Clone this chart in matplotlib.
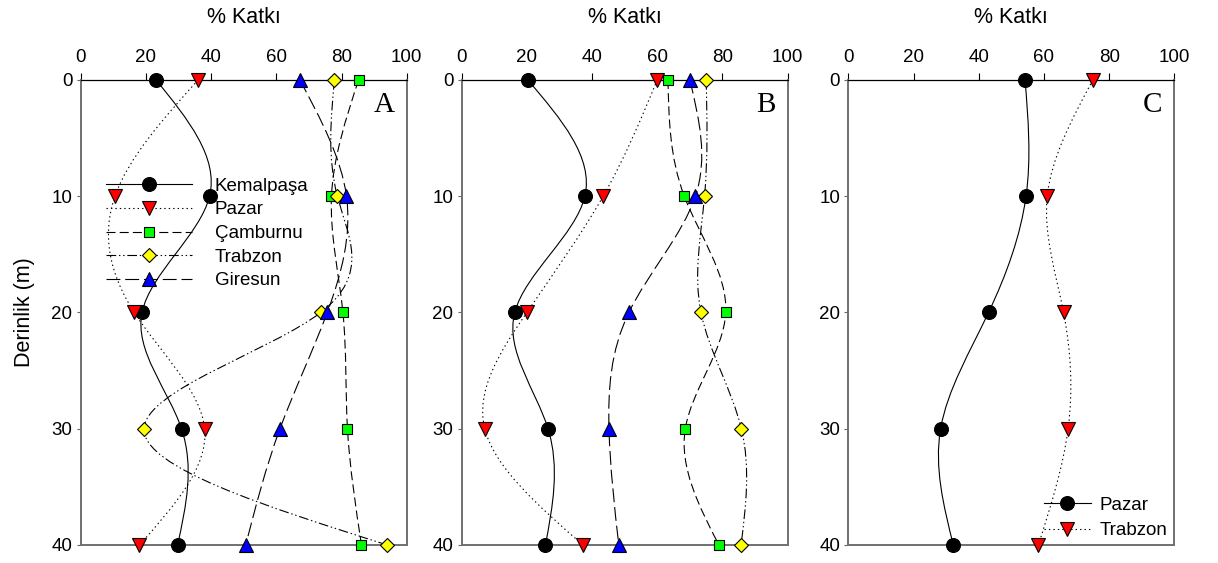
import numpy as np
import matplotlib
matplotlib.use("Agg")
import matplotlib.pyplot as plt
from matplotlib.path import Path
from matplotlib.patches import PathPatch
from matplotlib.lines import Line2D

plt.rcParams['font.family'] = ['Liberation Sans', 'DejaVu Sans']
plt.rcParams['lines.scale_dashes'] = False

depth = [0, 10, 20, 30, 40]

# panel A
a_kemalpasa = [23.1, 39.5, 18.8, 30.9, 29.7]
a_pazar = [36.0, 10.5, 16.4, 38.0, 18.0]
a_camburnu = [85.2, 76.9, 80.4, 81.8, 86.1]
a_trabzon = [77.8, 78.7, 73.6, 19.4, 94.0]
a_giresun = [67.2, 81.5, 75.6, 61.1, 50.6]

# panel B
b_kemalpasa = [20.3, 37.8, 16.3, 26.5, 25.7]
b_pazar = [60.0, 43.4, 20.0, 7.1, 37.2]
b_camburnu = [63.3, 68.3, 81.0, 68.6, 78.9]
b_trabzon = [75.0, 74.5, 73.4, 85.8, 85.7]
b_giresun = [70.0, 71.7, 51.3, 45.2, 48.2]

# panel C
c_pazar = [54.2, 54.5, 43.0, 28.3, 32.2]
c_trabzon = [75.0, 61.0, 66.0, 67.4, 58.3]

xticks = [0, 20, 40, 60, 80, 100]
yticks = [0, 10, 20, 30, 40]

styles = {
    'Kemalpaşa': dict(ls='-', marker='o', mfc='black', ms=10),
    'Pazar': dict(ls=(0, (1, 2.2)), marker='v', mfc='#ff0000', ms=10),
    'Çamburnu': dict(ls=(0, (6.5, 3)), marker='s', mfc='#00ff00', ms=7.5),
    'Trabzon': dict(ls=(0, (7, 2, 1, 2, 1, 2)), marker='D', mfc='#ffff00', ms=7.5),
    'Giresun': dict(ls=(0, (10, 3.5)), marker='^', mfc='#0000ff', ms=9.5),
}


def spline_path(ys, xs):
    # natural cubic spline x(y), written as bezier segments
    y = np.asarray(ys, float)
    x = np.asarray(xs, float)
    n = len(y)
    h = np.diff(y)
    A = np.zeros((n, n))
    r = np.zeros(n)
    A[0, 0] = A[-1, -1] = 1
    for i in range(1, n - 1):
        A[i, i - 1] = h[i - 1]
        A[i, i] = 2 * (h[i - 1] + h[i])
        A[i, i + 1] = h[i]
        r[i] = 6 * ((x[i + 1] - x[i]) / h[i] - (x[i] - x[i - 1]) / h[i - 1])
    M = np.linalg.solve(A, r)
    d = np.zeros(n)
    for i in range(n - 1):
        d[i] = (x[i + 1] - x[i]) / h[i] - h[i] * (2 * M[i] + M[i + 1]) / 6
    d[-1] = (x[-1] - x[-2]) / h[-1] + h[-1] * (M[-2] + 2 * M[-1]) / 6
    verts = [(x[0], y[0])]
    codes = [Path.MOVETO]
    for i in range(n - 1):
        verts += [(x[i] + d[i] * h[i] / 3, y[i] + h[i] / 3),
                  (x[i + 1] - d[i + 1] * h[i] / 3, y[i + 1] - h[i] / 3),
                  (x[i + 1], y[i + 1])]
        codes += [Path.CURVE4] * 3
    return Path(verts, codes)


def draw(ax, name, xs):
    st = styles[name]
    ax.add_patch(PathPatch(spline_path(depth, xs), fill=False, ec='black',
                           lw=0.8, ls=st['ls'], zorder=2))
    ax.plot(xs, depth, ls='none', marker=st['marker'], mfc=st['mfc'],
            mec='black', mew=0.8, ms=st['ms'], clip_on=False, zorder=3)


def proxy(name):
    st = styles[name]
    return Line2D([], [], color='black', lw=0.8, ls=st['ls'], marker=st['marker'],
                  mfc=st['mfc'], mec='black', mew=0.8, ms=st['ms'])


fig = plt.figure(figsize=(12.18, 5.63), dpi=100)
lefts = [0.0663, 0.379, 0.6965]
axes = [fig.add_axes([l, 0.032, 0.2677, 0.826]) for l in lefts]

for ax, letter in zip(axes, ['A', 'B', 'C']):
    ax.set_xlim(0, 100)
    ax.set_ylim(40, 0)
    ax.set_xticks(xticks)
    ax.set_yticks(yticks)
    ax.xaxis.tick_top()
    ax.xaxis.set_label_position('top')
    ax.set_xlabel('% Katkı', fontsize=15.5, labelpad=19)
    ax.tick_params(axis='x', direction='out', length=5, width=0.8, labelsize=13.5, pad=5)
    ax.tick_params(axis='y', direction='out', length=3, width=0.8, labelsize=13.5,
                   color='#666666', pad=3)
    for s in ['left', 'right', 'bottom']:
        ax.spines[s].set_color('#707070')
        ax.spines[s].set_linewidth(1.4)
    ax.spines['top'].set_color('black')
    ax.spines['top'].set_linewidth(0.9)
    ax.text(0.964, 0.931, letter, transform=ax.transAxes, ha='right', va='baseline',
            fontsize=21, family=['Liberation Serif', 'DejaVu Serif'])

axes[0].set_ylabel('Derinlik (m)', fontsize=15.5, labelpad=12)

draw(axes[0], 'Kemalpaşa', a_kemalpasa)
draw(axes[0], 'Pazar', a_pazar)
draw(axes[0], 'Çamburnu', a_camburnu)
draw(axes[0], 'Trabzon', a_trabzon)
draw(axes[0], 'Giresun', a_giresun)

draw(axes[1], 'Kemalpaşa', b_kemalpasa)
draw(axes[1], 'Pazar', b_pazar)
draw(axes[1], 'Çamburnu', b_camburnu)
draw(axes[1], 'Trabzon', b_trabzon)
draw(axes[1], 'Giresun', b_giresun)

draw(axes[2], 'Kemalpaşa', c_pazar)
draw(axes[2], 'Pazar', c_trabzon)

names = ['Kemalpaşa', 'Pazar', 'Çamburnu', 'Trabzon', 'Giresun']
axes[0].legend([proxy(n) for n in names], names, loc='upper left',
               bbox_to_anchor=(0.078, 0.79), frameon=False, fontsize=13.5,
               numpoints=1, handlelength=4.6, handletextpad=1.2,
               labelspacing=0.35, borderpad=0, borderaxespad=0)
axes[2].legend([proxy('Kemalpaşa'), proxy('Pazar')], ['Pazar', 'Trabzon'],
               loc='lower right', bbox_to_anchor=(0.98, 0.012), frameon=False,
               fontsize=13.5, numpoints=1, handlelength=2.5, handletextpad=0.5,
               labelspacing=0.45, borderpad=0, borderaxespad=0)

fig.savefig('out.png', dpi=100)
